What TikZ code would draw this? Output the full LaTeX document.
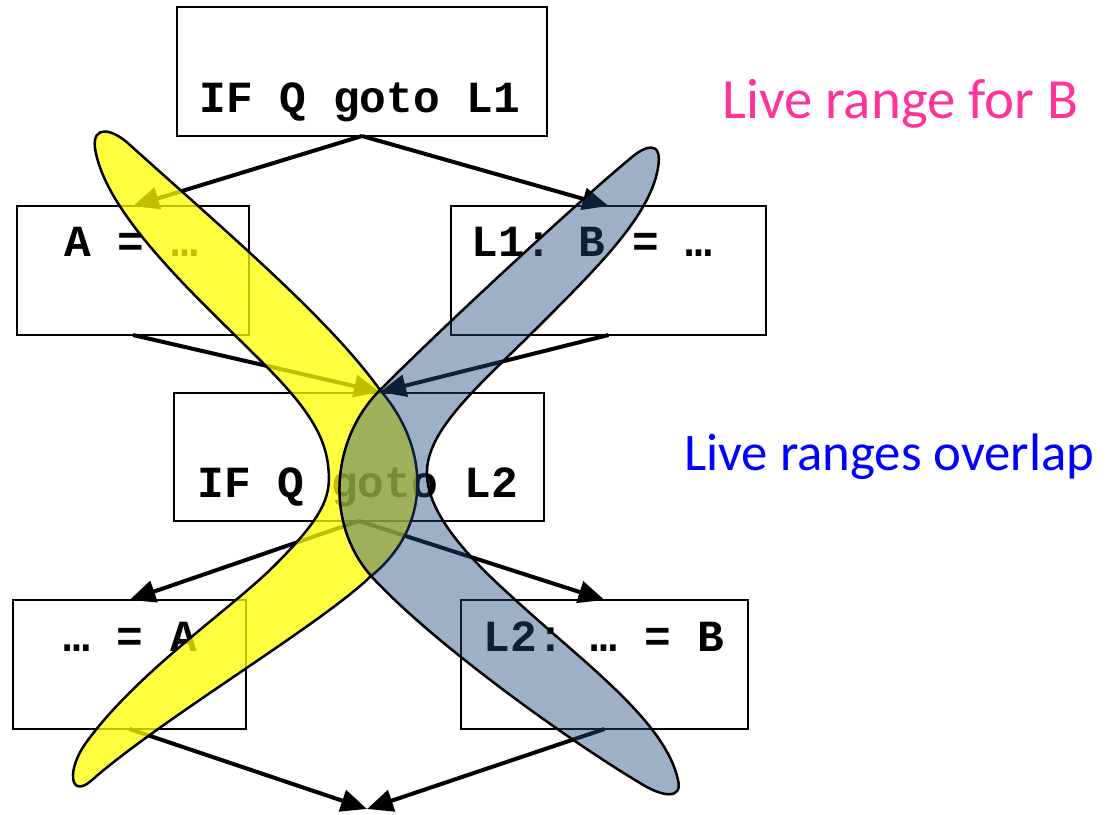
\documentclass[tikz,border=0pt]{standalone}
\usepackage{fontspec}
\setmonofont{Liberation Mono}
\newfontfamily\calib{Carlito}
\usetikzlibrary{arrows.meta}
\definecolor{pinkc}{RGB}{255,51,153}
\definecolor{bluec}{RGB}{0,0,255}
\definecolor{bandblue}{RGB}{31,73,125}
\definecolor{bandyellow}{RGB}{255,255,0}
\begin{document}
\begin{tikzpicture}[x=1pt,y=-1pt,
  box/.style={draw=black, line width=2.5pt, inner sep=0pt, outer sep=0pt, rectangle},
  code/.style={font=\ttfamily\bfseries\fontsize{44.5}{50}\selectfont, anchor=base, inner sep=0pt},
  flow/.style={line width=4pt, -{Triangle[length=26pt,width=22pt]}},
  band/.style={draw=black, line width=2.5pt},
  note/.style={font=\calib\fontsize{#1}{#1}\selectfont, anchor=base west, inner sep=0pt}
]
\useasboundingbox (0,0) rectangle (1107,814);

% boxes
\node[box, minimum width=370pt, minimum height=129pt] (b1) at (362,71.5) {};
\node[box, minimum width=232pt, minimum height=129pt] (b2) at (133,270.5) {};
\node[box, minimum width=315pt, minimum height=129pt] (b3) at (608.5,270.5) {};
\node[box, minimum width=370pt, minimum height=128pt] (b4) at (359,457) {};
\node[box, minimum width=233pt, minimum height=129pt] (b5) at (129.5,664.5) {};
\node[box, minimum width=287pt, minimum height=129pt] (b6) at (604.5,664.5) {};

% code texts
\node[code] (t1) at (360,112) {IF Q goto L1};
\node[code] (t2) at (131,256) {A = …};
\node[code] (t3) at (592,256) {L1: B = …};
\node[code] (t4) at (358,497) {IF Q goto L2};
\node[code] (t5) at (130,651) {… = A};
\node[code] (t6) at (604,651) {L2: … = B};

% join points
\coordinate (j1) at (380,392);
\coordinate (j2) at (367,809);

% arrows
\draw[flow] (b1.south) -- (b2.north);
\draw[flow] (b1.south) -- (b3.north);
\draw[flow] (b2.south) -- (j1);
\draw[flow] (b3.south) -- (j1);
\draw[flow] (b4.south) -- (b5.north);
\draw[flow] (b4.south) -- (b6.north);
\draw[flow] (b5.south) -- (j2);
\draw[flow] (b6.south) -- (j2);

% labels
\node[note=56.8, text=pinkc] (l1) at (722,118) {Live range for B};
\node[note=52.8, text=bluec] (l2) at (684,470) {Live ranges overlap};

% live range of A (yellow)
\draw[band, fill=bandyellow, fill opacity=0.75]
  (95,148) .. controls (92,125) and (112,128) .. (130,145)
  .. controls (230,235) and (330,320) .. (380,390)
  .. controls (428,445) and (435,525) .. (370,577)
  .. controls (320,625) and (160,720) .. (92,780)
  .. controls (70,800) and (65,770) .. (88,740)
  .. controls (140,670) and (230,610) .. (275,565)
  .. controls (325,515) and (332,495) .. (328,465)
  .. controls (324,430) and (300,400) .. (260,360)
  .. controls (200,300) and (105,215) .. (95,148) -- cycle;

% live range of B (blue)
\draw[band, fill=bandblue, fill opacity=0.43]
  (632,157) .. controls (644,147) and (663,138) .. (658,168)
  .. controls (650,215) and (600,265) .. (540,325)
  .. controls (480,385) and (425,430) .. (427,475)
  .. controls (428,510) and (460,550) .. (510,595)
  .. controls (580,660) and (665,720) .. (678,780)
  .. controls (683,800) and (662,797) .. (640,783)
  .. controls (560,735) and (430,640) .. (372,577)
  .. controls (325,525) and (330,440) .. (380,390)
  .. controls (450,320) and (580,200) .. (632,157) -- cycle;
\end{tikzpicture}
\end{document}
